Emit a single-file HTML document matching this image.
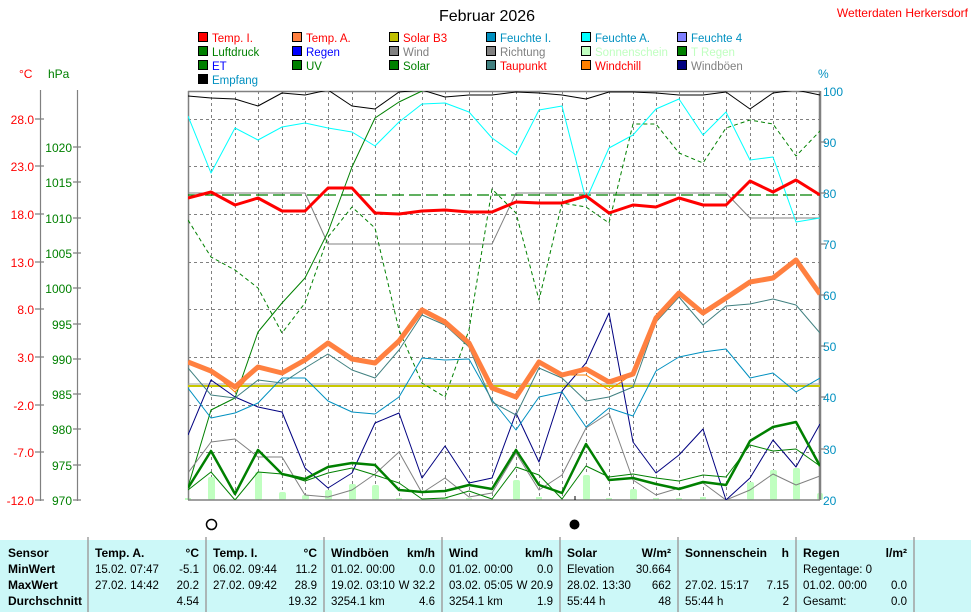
<!DOCTYPE html>
<html><head><meta charset="utf-8"><style>
html,body{margin:0;padding:0;background:#fff;}
svg{display:block;font-family:"Liberation Sans",sans-serif;}
</style></head><body>
<svg width="971" height="612" viewBox="0 0 971 612" xmlns="http://www.w3.org/2000/svg">
<defs><clipPath id="pc"><rect x="188" y="91" width="632" height="409"/></clipPath></defs>
<rect width="971" height="612" fill="#fff"/>
<text x="487" y="21" font-size="16" text-anchor="middle" fill="#000">Februar 2026</text>
<text x="968" y="17" font-size="12" text-anchor="end" fill="#ff0000">Wetterdaten Herkersdorf</text>

<g font-size="11.5">
<g stroke="#000" stroke-width="1">
<rect x="198.5" y="32.5" width="9" height="9" fill="#ff0000"/><rect x="292.5" y="32.5" width="9" height="9" fill="#ff8040"/><rect x="389.5" y="32.5" width="9" height="9" fill="#c0c000"/><rect x="486.5" y="32.5" width="9" height="9" fill="#0090c0"/><rect x="581.5" y="32.5" width="9" height="9" fill="#00ffff"/><rect x="677.5" y="32.5" width="9" height="9" fill="#8080ff"/>
<rect x="198.5" y="46.5" width="9" height="9" fill="#008000"/><rect x="292.5" y="46.5" width="9" height="9" fill="#0000ff"/><rect x="389.5" y="46.5" width="9" height="9" fill="#808080"/><rect x="486.5" y="46.5" width="9" height="9" fill="#808080"/><rect x="581.5" y="46.5" width="9" height="9" fill="#c0ffc0"/><rect x="677.5" y="46.5" width="9" height="9" fill="#008000"/>
<rect x="198.5" y="60.5" width="9" height="9" fill="#008000"/><rect x="292.5" y="60.5" width="9" height="9" fill="#008000"/><rect x="389.5" y="60.5" width="9" height="9" fill="#008000"/><rect x="486.5" y="60.5" width="9" height="9" fill="#408080"/><rect x="581.5" y="60.5" width="9" height="9" fill="#ff8000"/><rect x="677.5" y="60.5" width="9" height="9" fill="#000080"/>
<rect x="198.5" y="74.5" width="9" height="9" fill="#000"/>
</g>
<text x="212" y="42" fill="#ff0000">Temp. I.</text><text x="306" y="42" fill="#ff0000">Temp. A.</text><text x="403" y="42" fill="#ff0000">Solar B3</text><text x="500" y="42" fill="#0090c0">Feuchte I.</text><text x="595" y="42" fill="#0090c0">Feuchte A.</text><text x="691" y="42" fill="#0090c0">Feuchte 4</text>
<text x="212" y="56" fill="#008000">Luftdruck</text><text x="306" y="56" fill="#0000ff">Regen</text><text x="403" y="56" fill="#808080">Wind</text><text x="500" y="56" fill="#808080">Richtung</text><text x="595" y="56" fill="#c0ffc0">Sonnenschein</text><text x="691" y="56" fill="#c0ffc0">T Regen</text>
<text x="212" y="70" fill="#0000ff">ET</text><text x="306" y="70" fill="#008000">UV</text><text x="403" y="70" fill="#008000">Solar</text><text x="500" y="70" fill="#ff0000">Taupunkt</text><text x="595" y="70" fill="#ff0000">Windchill</text><text x="691" y="70" fill="#808080">Windböen</text>
<text x="212" y="84" fill="#0090c0">Empfang</text>
</g>

<text x="19" y="78" font-size="12" fill="#ff0000">°C</text>
<text x="48" y="78" font-size="12" fill="#008000">hPa</text>
<text x="818" y="78" font-size="12" fill="#0090c0">%</text>

<g stroke="#808080" stroke-width="1.2">
<line x1="40.5" y1="90" x2="40.5" y2="501"/><line x1="77.5" y1="90" x2="77.5" y2="501"/>
<path d="M35 119H44M35 166H44M35 214H44M35 262H44M35 309H44M35 357H44M35 405H44M35 452H44M35 500H44"/>
<path d="M73 147H81M73 182H81M73 218H81M73 253H81M73 288H81M73 324H81M73 359H81M73 394H81M73 429H81M73 465H81M73 500H81"/>
</g>
<g font-size="12" fill="#ff0000" text-anchor="end">
<text x="34" y="124">28.0</text><text x="34" y="171">23.0</text><text x="34" y="219">18.0</text><text x="34" y="267">13.0</text><text x="34" y="314">8.0</text><text x="34" y="362">3.0</text><text x="34" y="410">-2.0</text><text x="34" y="457">-7.0</text><text x="34" y="505">-12.0</text>
</g>
<g font-size="12" fill="#008000" text-anchor="end">
<text x="72" y="152">1020</text><text x="72" y="187">1015</text><text x="72" y="223">1010</text><text x="72" y="258">1005</text><text x="72" y="293">1000</text><text x="72" y="329">995</text><text x="72" y="364">990</text><text x="72" y="399">985</text><text x="72" y="434">980</text><text x="72" y="470">975</text><text x="72" y="505">970</text>
</g>
<g font-size="12" fill="#0090c0">
<text x="823" y="96">100</text><text x="823" y="147">90</text><text x="823" y="198">80</text><text x="823" y="249">70</text><text x="823" y="300">60</text><text x="823" y="351">50</text><text x="823" y="402">40</text><text x="823" y="454">30</text><text x="823" y="505">20</text>
</g>

<g stroke="#808080" stroke-width="1" stroke-dasharray="3,3" fill="none">
<path d="M188 119.5H820M188 166.5H820M188 214.5H820M188 262.5H820M188 309.5H820M188 357.5H820M188 405.5H820M188 452.5H820"/>
<path d="M211.5 91V500M235.5 91V500M258.5 91V500M282.5 91V500M305.5 91V500M328.5 91V500M352.5 91V500M375.5 91V500M399.5 91V500M422.5 91V500M445.5 91V500M469.5 91V500M492.5 91V500M516.5 91V500M539.5 91V500M562.5 91V500M586.5 91V500M609.5 91V500M633.5 91V500M656.5 91V500M679.5 91V500M703.5 91V500M726.5 91V500M750.5 91V500M773.5 91V500M796.5 91V500"/>
</g>

<g fill="#c0ffc0">
<rect x="185" y="498" width="6" height="2"/><rect x="208" y="477" width="7" height="23" rx="2"/><rect x="255" y="472" width="7" height="28" rx="2"/><rect x="279" y="492" width="7" height="8" rx="2"/><rect x="302" y="495" width="7" height="5" rx="2"/><rect x="325" y="490" width="7" height="10" rx="2"/><rect x="349" y="484" width="7" height="16" rx="2"/><rect x="372" y="485" width="7" height="15" rx="2"/><rect x="396" y="498" width="6" height="2"/><rect x="442" y="498" width="6" height="2"/><rect x="466" y="498" width="6" height="2"/><rect x="513" y="480" width="7" height="20" rx="2"/><rect x="536" y="497" width="6" height="3"/><rect x="583" y="475" width="7" height="25" rx="2"/><rect x="606" y="498" width="6" height="2"/><rect x="630" y="489" width="7" height="11" rx="2"/><rect x="653" y="498" width="6" height="2"/><rect x="676" y="498" width="6" height="2"/><rect x="700" y="497" width="6" height="3"/><rect x="747" y="482" width="7" height="18" rx="2"/><rect x="770" y="470" width="7" height="30" rx="2"/><rect x="793" y="468" width="7" height="32" rx="2"/><rect x="817" y="493" width="6" height="7" rx="2"/>
</g>

<g stroke="#808080" fill="none">
<line x1="188" y1="91.5" x2="820" y2="91.5" stroke-width="1.5"/>
<line x1="188" y1="500" x2="820" y2="500" stroke-width="1.5"/>
<line x1="188.5" y1="91" x2="188.5" y2="500" stroke-width="1.5"/>
<line x1="820" y1="91" x2="820" y2="500" stroke-width="2.5"/>
<path d="M820 142H826M820 193H826M820 244H826M820 295H826M820 346H826M820 397H826M820 449H826" stroke-width="1.2"/>
</g>

<g clip-path="url(#pc)" fill="none" stroke-linejoin="round">
<line x1="188" y1="384" x2="820" y2="384" stroke="#a0a0a0" stroke-width="1"/>
<line x1="188" y1="386" x2="820" y2="386" stroke="#c8c800" stroke-width="2"/>
<line x1="188" y1="195" x2="820" y2="195" stroke="#008000" stroke-width="1.2" stroke-dasharray="12,5"/>
<polyline stroke="#808080" stroke-width="1" points="188,193 305,193 328,244 492,244 516,193 726,193 750,218 820,218"/>
<polyline stroke="#000" stroke-width="1" points="188,96 211,98 235,99 258,106 282,93 305,95 328,90 352,106 375,109 399,92 422,90 445,97 469,95 492,95 516,92 539,93 562,95 586,99 609,92 633,92 656,93 679,95 703,95 726,92 750,109 773,93 796,90 820,95"/>
<polyline stroke="#00ffff" stroke-width="1" points="188,116 211,173 235,128 258,140 282,127 305,123 328,128 352,132 375,146 399,122 422,104 445,103 469,112 492,138 516,155 539,110 562,106 586,200 609,148 633,135 656,109 679,99 703,135 726,112 750,160 773,157 796,222 820,218"/>
<polyline stroke="#008000" stroke-width="1" stroke-dasharray="4,3" points="188,220 211,257 235,270 258,288 282,333 305,303 328,237 352,207 375,228 399,330 422,383 445,397 469,330 492,189 516,213 539,300 562,203 586,207 609,223 633,124 656,124 679,153 703,163 726,128 750,120 773,124 796,156 820,131"/>
<polyline stroke="#008000" stroke-width="1" points="188,487 211,410 235,398 258,332 282,303 305,278 328,232 352,167 375,118 399,102 422,91 445,80 820,80"/>
<polyline stroke="#808080" stroke-width="1" points="188,473 211,442 235,439 258,457 282,457 305,495 328,497 352,490 375,474 399,452 422,493 445,478 469,497 492,493 516,453 539,490 562,475 586,428 609,413 633,480 656,495 679,488 703,483 726,500 750,490 773,474 796,485 820,476"/>
<polyline stroke="#000080" stroke-width="1" points="188,435 211,380 235,397 258,407 282,412 305,468 328,488 352,473 375,423 399,413 422,478 445,446 469,483 492,478 516,413 539,462 562,391 586,363 609,313 633,442 656,473 679,455 703,429 726,500 750,478 773,440 796,467 820,424"/>
<polyline stroke="#0090c0" stroke-width="1" points="188,388 211,418 235,413 258,403 282,378 305,378 328,401 352,412 375,414 399,397 422,358 445,360 469,359 492,400 516,430 539,397 562,392 586,427 609,408 633,416 656,371 679,357 703,352 726,349 750,378 773,373 796,392 820,378"/>
<polyline stroke="#408080" stroke-width="1" points="188,368 211,395 235,398 258,380 282,383 305,368 328,354 352,370 375,378 399,350 422,315 445,325 469,347 492,402 516,415 539,368 562,378 586,401 609,397 633,387 656,322 679,297 703,325 726,306 750,304 773,299 796,305 820,333"/>
<polyline stroke="#008000" stroke-width="1" points="188,490 211,472 235,500 258,472 282,474 305,481 328,473 352,468 375,475 399,483 422,499 445,498 469,491 492,499 516,467 539,475 562,499 586,466 609,477 633,474 656,478 679,481 703,475 726,477 750,445 773,451 796,449 820,466"/>
<polyline stroke="#008000" stroke-width="2.5" points="188,488 211,451 235,494 258,450 282,474 305,479 328,467 352,463 375,465 399,490 422,492 445,491 469,485 492,489 516,450 539,485 562,493 586,444 609,480 633,478 656,484 679,489 703,482 726,485 750,441 773,427 796,422 820,466"/>
<polyline stroke="#ff8000" stroke-width="1" points="188,362 211,371 235,392 258,367 282,373 305,360 328,343 352,359 375,363 399,341 422,310 445,322 469,343 492,388 516,397 539,362 562,375 586,375 609,390 633,374 656,318 679,293 703,313 726,298 750,282 773,278 796,260 820,294"/>
<polyline stroke="#ff8040" stroke-width="5" points="188,362 211,371 235,387 258,367 282,373 305,360 328,343 352,359 375,363 399,341 422,310 445,322 469,343 492,388 516,397 539,362 562,375 586,369 609,382 633,374 656,318 679,293 703,313 726,298 750,282 773,278 796,260 820,294"/>
<polyline stroke="#ff0000" stroke-width="3" points="188,198 211,192 235,205 258,198 282,211 305,211 328,188 352,188 375,213 399,214 422,211 445,210 469,212 492,212 516,202 539,203 562,203 586,196 609,213 633,205 656,207 679,198 703,205 726,205 750,181 773,192 796,180 820,195"/>
</g>

<circle cx="211.5" cy="524.5" r="5" fill="none" stroke="#000" stroke-width="1.5"/>
<circle cx="574.5" cy="524.5" r="5" fill="#000"/>
<line x1="575" y1="496" x2="575" y2="500" stroke="#000"/>

<rect x="0" y="540" width="971" height="72" fill="#ccf8f8"/>
<g stroke="#a0a0a0" stroke-width="1.5">
<line x1="88" y1="537" x2="88" y2="612"/><line x1="206" y1="537" x2="206" y2="612"/><line x1="324" y1="537" x2="324" y2="612"/><line x1="442" y1="537" x2="442" y2="612"/><line x1="560" y1="537" x2="560" y2="612"/><line x1="678" y1="537" x2="678" y2="612"/><line x1="796" y1="537" x2="796" y2="612"/><line x1="914" y1="537" x2="914" y2="612"/>
</g>
<g font-size="11.5" fill="#000">
<g font-weight="bold" font-size="12">
<text x="8" y="557">Sensor</text><text x="8" y="573">MinWert</text><text x="8" y="589">MaxWert</text><text x="8" y="605">Durchschnitt</text>
<text x="95" y="557">Temp. A.</text><text x="213" y="557">Temp. I.</text><text x="331" y="557">Windböen</text><text x="449" y="557">Wind</text><text x="567" y="557">Solar</text><text x="685" y="557">Sonnenschein</text><text x="803" y="557">Regen</text>
<g text-anchor="end"><text x="199" y="557">°C</text><text x="317" y="557">°C</text><text x="435" y="557">km/h</text><text x="553" y="557">km/h</text><text x="671" y="557">W/m²</text><text x="789" y="557">h</text><text x="907" y="557">l/m²</text></g>
</g>
<text x="95" y="573">15.02. 07:47</text><text x="95" y="589">27.02. 14:42</text>
<text x="213" y="573">06.02. 09:44</text><text x="213" y="589">27.02. 09:42</text>
<text x="331" y="573">01.02. 00:00</text><text x="331" y="589">19.02. 03:10</text><text x="331" y="605">3254.1 km</text>
<text x="449" y="573">01.02. 00:00</text><text x="449" y="589">03.02. 05:05</text><text x="449" y="605">3254.1 km</text>
<text x="567" y="573">Elevation</text><text x="567" y="589">28.02. 13:30</text><text x="567" y="605">55:44 h</text>
<text x="685" y="589">27.02. 15:17</text><text x="685" y="605">55:44 h</text>
<text x="803" y="573">Regentage: 0</text><text x="803" y="589">01.02. 00:00</text><text x="803" y="605">Gesamt:</text>
<g text-anchor="end">
<text x="199" y="573">-5.1</text><text x="199" y="589">20.2</text><text x="199" y="605">4.54</text>
<text x="317" y="573">11.2</text><text x="317" y="589">28.9</text><text x="317" y="605">19.32</text>
<text x="435" y="573">0.0</text><text x="435" y="589">W 32.2</text><text x="435" y="605">4.6</text>
<text x="553" y="573">0.0</text><text x="553" y="589">W 20.9</text><text x="553" y="605">1.9</text>
<text x="671" y="573">30.664</text><text x="671" y="589">662</text><text x="671" y="605">48</text>
<text x="789" y="589">7.15</text><text x="789" y="605">2</text>
<text x="907" y="589">0.0</text><text x="907" y="605">0.0</text>
</g>
</g>
</svg>
</body></html>
